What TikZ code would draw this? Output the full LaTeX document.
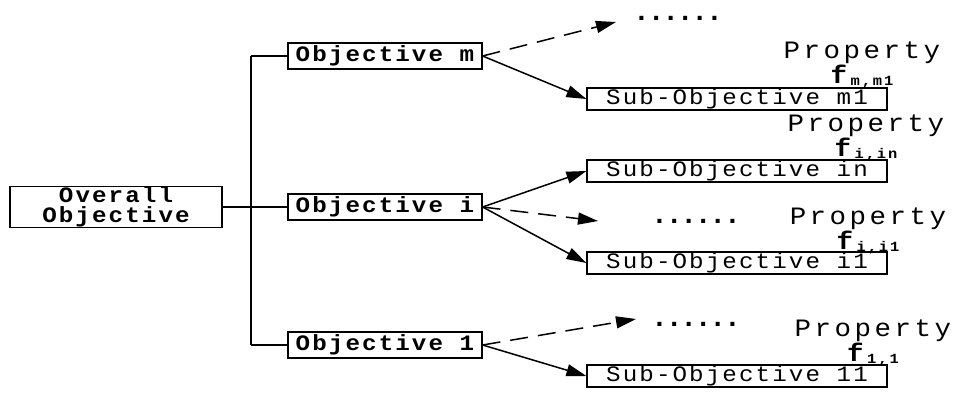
\documentclass[tikz,border=0pt]{standalone}
\usepackage{fontspec}
\setmainfont{Liberation Mono}
\newfontfamily\boxfont[LetterSpace=9.5, FakeStretch=1.1]{Liberation Mono}
\newfontfamily\propfont[LetterSpace=14, FakeStretch=1.1]{Liberation Mono}
\newfontfamily\dotfont[LetterSpace=-8]{Liberation Mono}
\usetikzlibrary{positioning,arrows.meta}
\tikzstyle{obj}=[draw, rectangle, line width=1.2pt, inner sep=0pt, align=center, minimum width=194pt, minimum height=26pt, font=\boxfont\fontsize{22}{20}\selectfont\bfseries]
\tikzstyle{subobj}=[draw, rectangle, line width=1.2pt, inner sep=0pt, minimum width=300pt, minimum height=22pt, text height=13pt, text depth=3pt, font=\boxfont\fontsize{22}{22}\selectfont]
\tikzstyle{prop}=[inner sep=0pt, align=center, font=\propfont\fontsize{25}{21}\selectfont]
\newcommand{\fsub}[1]{\textbf{f}\raisebox{-2.5pt}{\fontsize{14}{14}\selectfont\bfseries #1}}

\begin{document}
\begin{tikzpicture}[x=1pt, y=-1pt, line width=1.5pt,
	arr/.style = {-{Triangle[length=20pt, width=12pt]}},
	dsh/.style = {arr, dash pattern=on 18pt off 10pt},
	dots/.style = {inner sep=0pt, anchor=base, font=\dotfont\fontsize{28}{28}\selectfont\bfseries}]
	
	\useasboundingbox (0,0) rectangle (958,394);
	
	\node[obj, minimum width=212pt, minimum height=40pt] (ov) at (116,207) {Overall\\Objective};
	\node[obj, text height=13pt, text depth=3pt] (om) at (385,56) {Objective m};
	\node[obj, text height=13pt, text depth=3pt] (oi) at (385,207) {Objective i};
	\node[obj, text height=13pt, text depth=3pt] (o1) at (385,345) {Objective 1};
	
	\node[subobj] (sm1) at (737,99) {Sub-Objective m1};
	\node[subobj] (sin) at (737,171) {Sub-Objective in};
	\node[subobj] (si1) at (737,263) {Sub-Objective i1};
	\node[subobj] (s11) at (737,376) {Sub-Objective 11};
	
	\node[dots] (dm) at (678,20) {......};
	\node[dots] (di) at (696,223) {......};
	\node[dots] (d1) at (696,326) {......};
	\coordinate (tm) at (616,22);
	\coordinate (ti) at (598,221);
	\coordinate (t1) at (636,319);
	
	\node[prop, anchor=north] (pm1) at (862,41) {Property\\\fsub{m,m1}};
	\node[prop, anchor=north] (pin) at (866,114) {Property\\\fsub{i,in}};
	\node[prop, anchor=north] (pi1) at (868,207) {Property\\\fsub{i,i1}};
	\node[prop, anchor=north] (p11) at (873,319) {Property\\\fsub{1,1}};
	
	% bus
	\coordinate (bus) at (251,207);
	\draw (ov.east) -- (bus);
	\draw[line width=2.5pt] (bus |- om.west) -- (bus |- o1.west);
	\draw (bus |- om.west) -- (om.west);
	\draw (bus) -- (oi.west);
	\draw (bus |- o1.west) -- (o1.west);
	
	% arrows
	\draw[arr] (om.east) -- (sm1.west);
	\draw[dsh] (om.east) -- (tm);
	\draw[arr] (oi.east) -- (sin.west);
	\draw[arr] (oi.east) -- (si1.west);
	\draw[dsh] (oi.east) -- (ti);
	\draw[arr] (o1.east) -- (s11.west);
	\draw[dsh] (o1.east) -- (t1);
	
\end{tikzpicture}
\end{document}
